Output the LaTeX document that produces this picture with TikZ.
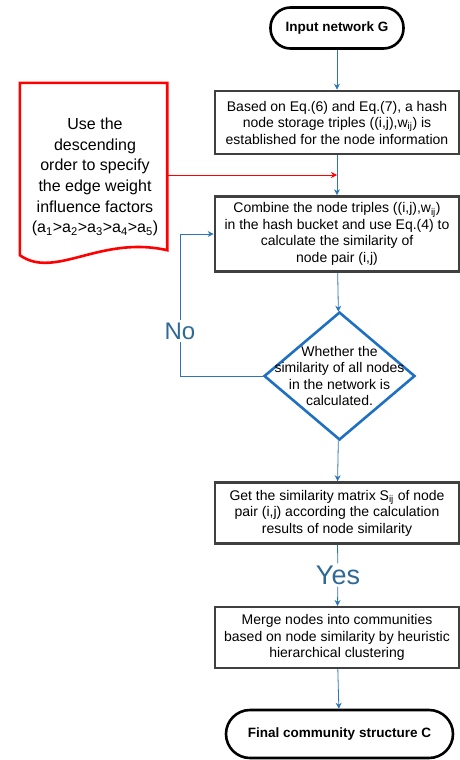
\documentclass[tikz,border=0pt]{standalone}
\usepackage{fontspec}
\setmainfont{Liberation Sans}
\usetikzlibrary{shapes.geometric,arrows.meta}
\definecolor{flowblue}{RGB}{46,117,182}
\definecolor{diablue}{RGB}{31,112,192}
\definecolor{boxgray}{RGB}{64,64,64}
\definecolor{labelblue}{RGB}{47,105,150}
\begin{document}
\begin{tikzpicture}[x=1pt,y=-1pt,
    procbox/.style={draw=boxgray, line width=2.6pt, minimum width=244pt, align=center, inner sep=0pt, font=\fontsize{14}{16.5}\selectfont},
    terminal/.style={draw=black, line width=2.6pt, inner sep=0pt, font=\fontsize{13.5}{16}\selectfont\bfseries},
    flowline/.style={draw=flowblue, line width=0.8pt},
    flow/.style={flowline, -{Stealth[length=6pt,width=6pt]}},
    redflow/.style={draw=red, line width=0.8pt, -{Stealth[length=6pt,width=6pt]}},
    answer/.style={text=labelblue, inner sep=2pt, font=\fontsize{24}{28}\selectfont}]
    \useasboundingbox (0,0) rectangle (459,760);
    \node[terminal, minimum width=133pt, minimum height=41pt, rounded corners=20pt] (start) at (337,28) {Input network G};
    \node[procbox, minimum height=63pt] (hash) at (337,122.5) {Based on Eq.(6) and Eq.(7), a hash\\node storage triples ((i,j),w\textsubscript{ij}) is\\established for the node information};
    \node[procbox, minimum height=75pt] (combine) at (337,234) {Combine the node triples ((i,j),w\textsubscript{ij})\\in the hash bucket and use Eq.(4) to\\calculate the similarity of\\node pair (i,j)};
    \node[diamond, draw=diablue, line width=2.6pt, minimum width=151pt, minimum height=128pt, inner sep=0pt] (check) at (339.5,376) {};
    \node[align=center, inner sep=0pt, font=\fontsize{14}{16.5}\selectfont] (checktext) at (check) {Whether the\\similarity of all nodes\\in the network is\\calculated.};
    \node[procbox, minimum height=61pt] (matrix) at (337,513) {Get the similarity matrix S\textsubscript{ij} of node\\pair (i,j) according the calculation\\results of node similarity};
    \node[procbox, line width=2pt, minimum height=61pt] (merge) at (337,637.5) {Merge nodes into communities\\based on node similarity by heuristic\\hierarchical clustering};
    \node[terminal, minimum width=227pt, minimum height=48pt, rounded corners=24pt] (final) at (339.5,734) {Final community structure C};
    \node[minimum width=147pt, minimum height=172pt, inner sep=0pt] (doc) at (93.5,169) {};
    \draw[red, line width=2.6pt] (doc.south west) -- (doc.north west) -- (doc.north east) -- ([yshift=5pt]doc.south east) .. controls (100,235) and (55,280) .. (doc.south west) -- cycle;
    \node[align=center, inner sep=0pt, font=\fontsize{16}{20.6}\selectfont] (doctext) at (95,177) {Use the\\descending\\order to specify\\the edge weight\\influence factors\\(a\textsubscript{1}>a\textsubscript{2}>a\textsubscript{3}>a\textsubscript{4}>a\textsubscript{5})};
    \node[answer] (no) at (180,331) {No};
    \node[answer, font=\fontsize{27}{30}\selectfont] (yes) at (338,575) {Yes};
    \coordinate (join) at (337,175);
    \draw[flow] (start) -- (hash);
    \draw[flow] (hash) -- (combine);
    \draw[redflow] ([yshift=-6pt]doc.east) -- (join);
    \draw[flow] (combine) -- (check);
    \draw[flowline] (check.west) -| (no.south);
    \draw[flow] (no.north) |- (combine.west);
    \draw[flow] (check) -- (matrix);
    \draw[flowline] (matrix) -- (yes);
    \draw[flow] (yes) -- (merge);
    \draw[flow] (merge) -- (final);
\end{tikzpicture}
\end{document}
